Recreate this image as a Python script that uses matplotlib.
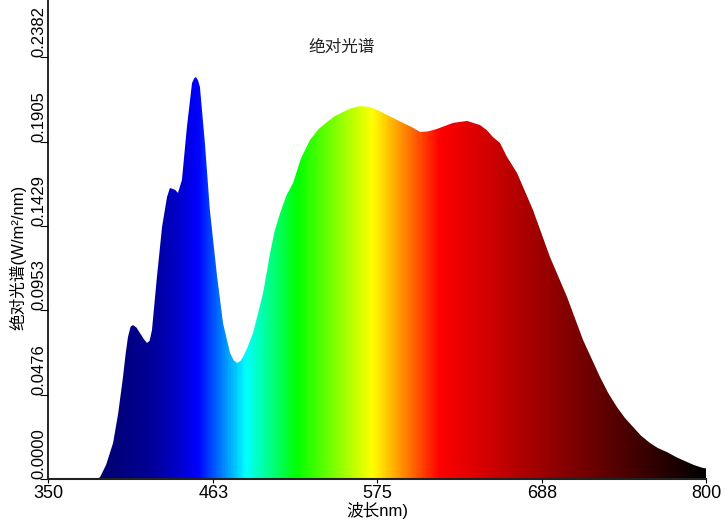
import numpy as np
import matplotlib
matplotlib.use("Agg")
import matplotlib.pyplot as plt
from matplotlib.colors import LinearSegmentedColormap

plt.rcParams['font.family'] = ['Liberation Sans', 'Noto Sans CJK SC', 'DejaVu Sans']

# spectrum (nm, W/m2/nm)
wavelength = [384, 385.6, 389.7, 394.5, 398, 401.3, 403, 404.7, 406.5, 408.1, 410.5, 412.9, 415.5, 417.7,
              419.5, 421.1, 424.5, 428.0, 431.4, 433.4, 436.9, 438.9, 441.6, 445.0, 448.5, 450, 451.2,
              452.6, 453.9, 457.3, 460.7, 465.6, 469.7, 474.5, 477, 479.3, 481.5, 483.4, 486.5, 490.2,
              493.5, 497.1, 501.9, 505, 508.7, 513, 517.6, 523, 529.2, 535, 540.8, 546, 551.8, 557,
              563.4, 570.2, 576, 581.8, 592.8, 599, 604.4, 610, 616.0, 627.0, 636.6, 645.4, 650, 654.3,
              659.1, 663.9, 670.8, 681.7, 693.3, 705.0, 715.9, 727.5, 733, 739.1, 744.5, 750.1, 755.5,
              761.7, 767, 773.3, 780, 787.0, 792, 798.0, 800]
irradiance = [0.0, 0.0011, 0.0079, 0.0203, 0.037, 0.0576, 0.070, 0.0802, 0.0860, 0.0869, 0.0855, 0.0824,
              0.0790, 0.0768, 0.0780, 0.0841, 0.1141, 0.1423, 0.1592, 0.1643, 0.1632, 0.1615, 0.1688,
              0.1987, 0.2235, 0.2262, 0.2269, 0.2250, 0.2213, 0.1897, 0.1518, 0.1146, 0.0880, 0.0711,
              0.0670, 0.0655, 0.0665, 0.0689, 0.0745, 0.0824, 0.0930, 0.1050, 0.1276, 0.1400, 0.1500,
              0.1600, 0.1671, 0.1810, 0.1914, 0.1975, 0.2015, 0.2048, 0.2072, 0.2092, 0.2105, 0.2100,
              0.2080, 0.2055, 0.2010, 0.1985, 0.1959, 0.1962, 0.1976, 0.2010, 0.2021, 0.1998, 0.1970,
              0.1930, 0.1897, 0.1818, 0.1727, 0.1518, 0.1253, 0.1027, 0.0785, 0.0576, 0.0487, 0.0406,
              0.0345, 0.0294, 0.0245, 0.0203, 0.0175, 0.0152, 0.0122, 0.0096, 0.0078, 0.0062, 0.0060]

x_ticks = [350, 463, 575, 688, 800]
y_ticks = [0.0000, 0.0476, 0.0953, 0.1429, 0.1905, 0.2382]

# wavelength -> colour stops
stop_nm = [350, 385, 420, 440, 452, 485, 520, 572, 618, 800]
stop_col = ['#00006e', '#00006e', '#000096', '#0000d0', '#0000ff', '#00ffff', '#00ff00',
            '#ffff00', '#ff0000', '#000000']
cmap = LinearSegmentedColormap.from_list(
    'spec', [((n - 350) / 450, c) for n, c in zip(stop_nm, stop_col)])

fig = plt.figure(figsize=(7.25, 5.2), dpi=100)
ax = fig.add_axes([48 / 725, 41 / 520, 658 / 725, 479 / 520])
ymax = 0.2382 * 479 / 422

poly = ax.fill_between(wavelength, irradiance, 0, color='none', lw=0)
grad = np.linspace(350, 800, 900).reshape(1, -1)
img = ax.imshow(grad, cmap=cmap, vmin=350, vmax=800, extent=[350, 800, 0, ymax],
                aspect='auto', interpolation='bilinear')
img.set_clip_path(poly.get_paths()[0], transform=ax.transData)

ax.set_xlim(350, 800)
ax.set_ylim(0, ymax)
ax.spines['top'].set_visible(False)
ax.spines['right'].set_visible(False)
ax.spines['left'].set_linewidth(1.2)
ax.spines['bottom'].set_linewidth(1.5)
ax.spines['bottom'].set_color('#222222')

ax.set_xticks(x_ticks)
ax.set_xticklabels([str(v) for v in x_ticks], fontsize=13)
ax.tick_params(axis='x', length=3, pad=1)
ax.set_yticks(y_ticks)
ax.set_yticklabels([f"{v:.4f}" for v in y_ticks], fontsize=12, rotation=90, va='bottom')
ax.tick_params(axis='y', length=6, pad=-5)

ax.text(0.447, 0.902, '绝对光谱', transform=ax.transAxes, ha='center', va='center',
        fontsize=12, color='#222222')
ax.set_xlabel('波长nm)', fontsize=12, labelpad=0)
fig.text(18 / 725, 1 - 257 / 520, '绝对光谱(W/m²/nm)', rotation=90, ha='center',
         va='center', fontsize=12)

fig.savefig('out.png', dpi=100)
